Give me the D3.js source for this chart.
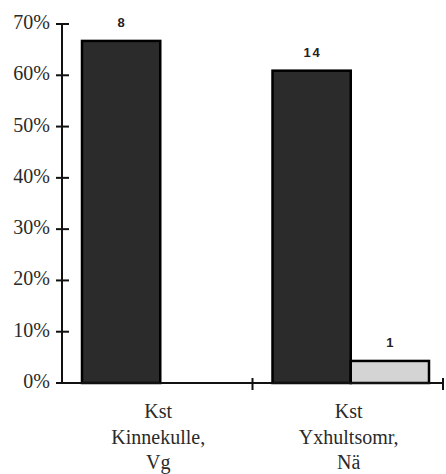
<!DOCTYPE html>
<html><head><meta charset="utf-8">
<script src="https://cdn.jsdelivr.net/npm/d3@7"></script>
<style>body{margin:0;background:#fff}svg{display:block}</style>
</head><body>
<script>
const categories = [["Kst","Kinnekulle,","Vg"],["Kst","Yxhultsomr,","Nä"]];
const seriesNames = ["A","B"];
const darkValues = [0.667, 0.609];
const lightValues = [0, 0.043];
const darkCounts = ["8","14"];
const lightCounts = ["", "1"];
const yTicks = [0,0.1,0.2,0.3,0.4,0.5,0.6,0.7];

const SERIF="'Liberation Serif'", SANS="'Liberation Sans'";
const W=446,H=474;
const svg=d3.select("body").append("svg").attr("width",W).attr("height",H);
const x0=62,x1=443,yTop=24,yBot=383;
const y=d3.scaleLinear().domain([0,0.7]).range([yBot,yTop]);
const xb=d3.scaleBand().domain(d3.range(categories.length)).range([x0,x1]);
const xs=d3.scaleBand().domain(seriesNames).range([20,xb.bandwidth()-14]);

// y axis
svg.append("line").attr("x1",x0).attr("x2",x0).attr("y1",yTop).attr("y2",yBot).attr("stroke","#111").attr("stroke-width",2);
yTicks.forEach(t=>{
  svg.append("line").attr("x1",x0-6).attr("x2",x0+7).attr("y1",y(t)).attr("y2",y(t)).attr("stroke","#111").attr("stroke-width",2);
  svg.append("text").style("font-family",SERIF).style("font-size","20px").attr("x",50).attr("y",y(t)+5).attr("text-anchor","end")
    .attr("fill","#2a2a2a").text(d3.format(".0%")(t));
});

const data=categories.map((c,i)=>({i,vals:[{s:"A",v:darkValues[i],n:darkCounts[i],fill:"#2b2b2b"},{s:"B",v:lightValues[i],n:lightCounts[i],fill:"#d4d4d4"}]}));
const g=svg.selectAll("g.cat").data(data).join("g").attr("transform",d=>`translate(${xb(d.i)},0)`);
g.selectAll("rect").data(d=>d.vals.filter(v=>v.v>0)).join("rect")
  .attr("x",d=>xs(d.s)).attr("width",xs.bandwidth()).attr("y",d=>y(d.v)).attr("height",d=>yBot-y(d.v))
  .attr("fill",d=>d.fill).attr("stroke","#000").attr("stroke-width",2.5);
g.selectAll("text.n").data(d=>d.vals.filter(v=>v.n)).join("text").attr("class","n")
  .style("font-family",SANS).style("font-size","13px").style("font-weight","bold").style("letter-spacing","2px")
  .attr("x",d=>xs(d.s)+xs.bandwidth()/2+1).attr("y",d=>y(d.v)-14).attr("text-anchor","middle")
  .attr("fill","#222").text(d=>d.n);

// x axis
svg.append("line").attr("x1",x0).attr("x2",x1).attr("y1",yBot).attr("y2",yBot).attr("stroke","#111").attr("stroke-width",2);
categories.forEach((c,i)=>{
  const xe=xb(i)+xb.bandwidth();
  svg.append("line").attr("x1",xe).attr("x2",xe).attr("y1",yBot-5).attr("y2",yBot+7).attr("stroke","#111").attr("stroke-width",2);
  const t=svg.append("text").style("font-family",SERIF).style("font-size","20px").attr("text-anchor","middle").attr("fill","#2a2a2a");
  c.forEach((line,k)=>t.append("tspan").attr("x",xb(i)+xb.bandwidth()/2+1).attr("y",418+k*25.5).text(line));
});
</script>
</body></html>
